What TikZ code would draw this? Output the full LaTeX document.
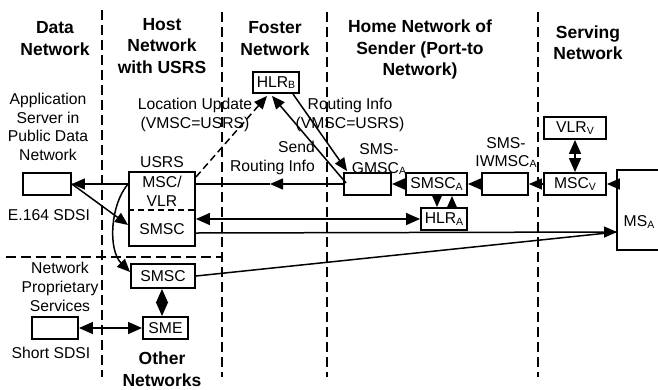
\documentclass[tikz,border=0pt]{standalone}
\usepackage{fontspec}
\setmainfont{Liberation Sans}
\usetikzlibrary{arrows.meta,calc}
\newcommand{\sbs}[1]{\raisebox{-1.2pt}{\fontsize{10.5}{10.5}\selectfont #1}}
\begin{document}
\begin{tikzpicture}[x=1pt,y=-1pt,
  box/.style={draw, line width=1.9pt, inner sep=0pt, font=\fontsize{15.7}{18}\selectfont},
  lbl/.style={font=\fontsize{15.7}{18.7}\selectfont, align=center, inner sep=0pt},
  hdr/.style={font=\bfseries\fontsize{17.5}{21.5}\selectfont, align=center, inner sep=0pt},
  ln/.style={line width=1.5pt},
  arr/.style={ln, -{Triangle[length=13pt,width=11pt]}},
  darr/.style={ln, {Triangle[length=14pt,width=12pt]}-{Triangle[length=14pt,width=12pt]}},
  divider/.style={line width=1.7pt, dash pattern=on 10pt off 5pt},
  inner/.style={line width=1.5pt, dash pattern=on 6pt off 4pt}]
\useasboundingbox (0,0) rectangle (658,389);

% dividers
\draw[divider] (102,10) -- (102,377);
\draw[divider] (222,12) -- (222,377);
\draw[divider] (327,12) -- (327,377);
\draw[divider] (538,12) -- (538,377);
\draw[divider] (6,257) -- (222,257);

% headers
\node[hdr] (hdata) at (55,38.5) {Data\\Network};
\node[hdr] (hhost) at (162,46) {Host\\Network\\with USRS};
\node[hdr] (hfost) at (275,38.5) {Foster\\Network};
\node[hdr] (hhome) at (420,49.5) {Home Network of\\Sender (Port-to\\Network)};
\node[hdr] (hserv) at (588,42.5) {Serving\\Network};
\node[hdr] (hother) at (162,369) {Other\\Networks};

% labels
\node[lbl] (lappl) at (48,127) {Application\\Server in\\Public Data\\Network};
\node[lbl] (le164) at (49,215) {E.164 SDSI};
\node[lbl] (lusrs) at (162,162) {USRS};
\node[lbl] (lnet) at (60,287) {Network\\Proprietary\\Services};
\node[lbl] (lshort) at (51,353) {Short SDSI};
\node[lbl] (lloc) at (195,115) {Location Update\\(VMSC=USRS)};
\node[lbl] (lrout) at (350,115) {Routing Info\\(VMSC=USRS)};
\node[lbl, anchor=east, align=right] (lsend) at (315,158) {Send\\Routing Info};
\node[lbl] (lgmsc) at (379,159) {SMS-\\GMSC\sbs{A}};
\node[lbl] (liwmsc) at (506,152.5) {SMS-\\IWMSC\sbs{A}};
\node[lbl] (lmsa) at (639,222) {MS\sbs{A}};

% boxes
\node[box, minimum width=48pt, minimum height=22pt] (app) at (47,184) {};
\node[box, minimum width=66pt, minimum height=74pt] (usrs) at (162,209) {};
\node[lbl] (usrsmsc) at (162,191) {MSC/\\VLR};
\node[lbl] (usrssmsc) at (162,229) {SMSC};
\node[box, minimum width=64pt, minimum height=24pt] (smsc2) at (163,276) {SMSC};
\node[box, minimum width=45pt, minimum height=22pt] (sme) at (165.5,328) {SME};
\node[box, minimum width=46pt, minimum height=22pt] (ssdsi) at (55,328) {};
\node[box, minimum width=46pt, minimum height=21pt] (hlrb) at (276,82.5) {HLR\sbs{B}};
\node[box, minimum width=47pt, minimum height=22pt] (gmsc) at (367.5,184) {};
\node[box, minimum width=61pt, minimum height=22pt] (smsca) at (436.5,184) {SMSC\sbs{A}};
\node[box, minimum width=46pt, minimum height=22pt] (iwmsc) at (505,184) {};
\node[box, minimum width=46pt, minimum height=22pt] (hlra) at (444,219) {HLR\sbs{A}};
\node[box, minimum width=62pt, minimum height=22pt] (mscv) at (575,184) {MSC\sbs{V}};
\node[box, minimum width=62pt, minimum height=22pt] (vlrv) at (575,128) {VLR\sbs{V}};
\draw[line width=1.9pt] (662,170) -- (617,170) -- (617,250) -- (662,250);
\coordinate (msaw) at (617,184);
\coordinate (msain) at (617,232);

% divider inside USRS box
\draw[inner] (usrs.west |- 0,210) -- (usrs.east |- 0,210);

% connectors
\draw[arr] (usrs.west |- app.east) -- (app.east);
\draw[arr] (app.east) -- (usrs.west |- 0,225);
\draw[arr] (usrs.west |- app.east) .. controls (110,205) and (108,250) .. ($(smsc2.west)+(0,-4)$);
\coordinate (midtip) at (270,184);
\draw[arr] (gmsc.west) -- (midtip);
\draw[ln] (midtip) -- (usrs.east |- gmsc.west);
\draw[arr, dash pattern=on 7pt off 4pt] (usrs.east |- 0,177) -- ($(hlrb.south)+(-9,2)$);
\draw[arr] ($(hlrb.south east)+(-7,0)$) -- ($(gmsc.north west)+(4,-1)$);
\draw[arr] ($(gmsc.west)+(3,-1)$) -- ($(hlrb.south)+(-4,2)$);
\draw[arr] (smsca.west) -- (gmsc.east);
\draw[arr] (iwmsc.west) -- (smsca.east);
\draw[arr] (mscv.west) -- (iwmsc.east);
\draw[arr] (msaw) -- (mscv.east);
\draw[darr] (vlrv.south) -- (mscv.north);
\draw[arr] (smsca.south -| 437,0) -- (hlra.north -| 437,0);
\draw[arr] (hlra.north -| 452,0) -- (smsca.south -| 452,0);
\draw[darr] (usrs.east |- hlra.west) -- (hlra.west);
\draw[arr] (usrs.east |- 0,233) -- (msain);
\draw[ln] (smsc2.east) -- (msain);
\draw[darr] (smsc2.south -| 162,0) -- (sme.north -| 162,0);
\draw[darr] (ssdsi.east) -- (sme.west);
\end{tikzpicture}
\end{document}
